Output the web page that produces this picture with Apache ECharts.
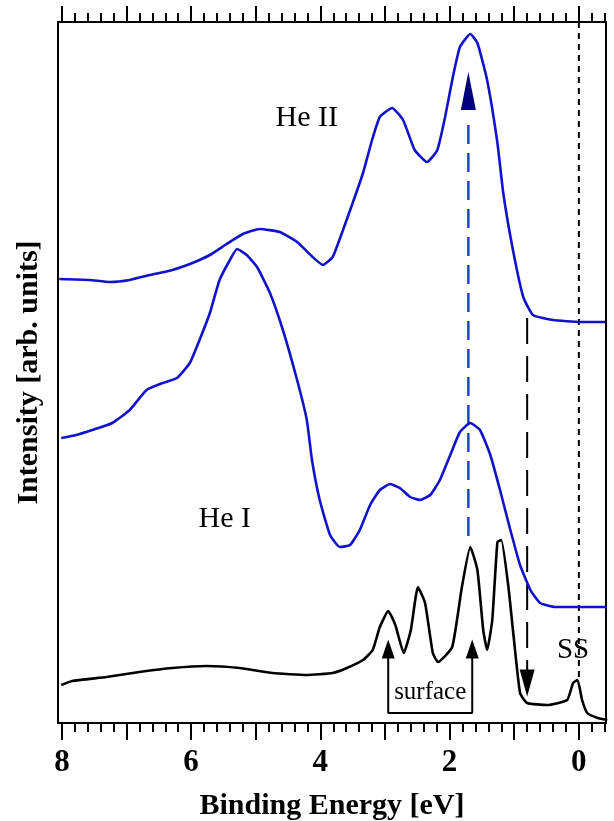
<!DOCTYPE html>
<html>
<head>
<meta charset="utf-8">
<script src="https://cdn.jsdelivr.net/npm/echarts@6/dist/echarts.min.js"></script>
<style>
  html, body { margin: 0; padding: 0; background: #fff; }
  #chart { width: 614px; height: 821px; }
</style>
</head>
<body>
<div id="chart"></div>
<script>
// binding energy (eV) / intensity (arb. units)
const heIIEnergy = [8.04, 7.57, 7.26, 6.95, 6.64, 6.29, 5.98, 5.71, 5.45, 5.20, 4.94, 4.63, 4.36, 4.12, 3.96, 3.81, 3.65, 3.50, 3.34, 3.20, 3.08, 2.89, 2.72, 2.54, 2.35, 2.19, 2.07, 1.95, 1.84, 1.68, 1.57, 1.42, 1.26, 1.17, 1.02, 0.86, 0.71, 0.40, -0.02, -0.41];
const heIIIntensity = [444, 443, 441, 443, 448, 453, 460, 468, 479, 489, 494, 491, 481, 466, 458, 466, 493, 520, 550, 583, 606, 615, 603, 573, 561, 573, 606, 646, 676, 689, 680, 643, 580, 530, 473, 426, 408, 403, 401, 401];

const heIEnergy = [8.01, 7.78, 7.53, 7.22, 6.95, 6.69, 6.44, 6.22, 6.02, 5.87, 5.71, 5.56, 5.40, 5.29, 5.14, 4.98, 4.78, 4.58, 4.36, 4.21, 4.13, 4.01, 3.85, 3.70, 3.54, 3.39, 3.23, 3.08, 2.92, 2.77, 2.61, 2.46, 2.30, 2.15, 1.99, 1.84, 1.68, 1.53, 1.37, 1.22, 1.06, 0.91, 0.75, 0.60, 0.36, -0.43];
const heIIntensity = [285, 288, 293, 300, 313, 333, 340, 345, 360, 383, 410, 443, 463, 474, 468, 456, 430, 393, 343, 303, 263, 223, 188, 176, 178, 193, 218, 233, 239, 235, 226, 223, 228, 243, 268, 291, 300, 293, 268, 233, 193, 158, 133, 120, 116, 116];

const surfEnergy = [8.01, 7.84, 7.31, 6.80, 6.29, 5.76, 5.25, 4.74, 4.21, 3.81, 3.59, 3.34, 3.19, 3.08, 2.95, 2.84, 2.71, 2.60, 2.49, 2.38, 2.26, 2.18, 1.96, 1.81, 1.68, 1.57, 1.48, 1.42, 1.34, 1.26, 1.20, 1.09, 1.02, 0.91, 0.80, 0.49, 0.18, 0.09, 0.02, -0.05, -0.13, -0.29, -0.44];
const surfIntensity = [38, 42, 46, 51, 55, 57, 55, 50, 48, 50, 55, 63, 73, 96, 112, 98, 70, 93, 136, 120, 70, 61, 76, 136, 176, 153, 93, 73, 103, 181, 183, 136, 93, 30, 20, 18, 23, 40, 43, 23, 10, 5, 3];

const majorTicks = [0, 1, 2, 3, 4, 5, 6, 7, 8];
const tickLabels = [0, 2, 4, 6, 8];

// annotation positions
const surfaceArrows = [2.95, 1.65];
const shiftLine = 1.71;   // blue dashed
const dropLine = 0.80;    // black long dash
const fermiLine = 0;      // black short dash

const zip = (xs, ys) => xs.map((x, i) => [x, ys[i]]);
const minorTicks = [];
for (let i = -2; i <= 40; i++) minorTicks.push(i / 5);

const serif = "Liberation Serif";
const X_MIN = -0.42, X_MAX = 8.06;

const chart = echarts.init(document.getElementById("chart"));

const xBase = {
  type: "value", inverse: true, min: X_MIN, max: X_MAX,
  splitLine: { show: false }
};
const frame = { onZero: false, lineStyle: { color: "#000", width: 2 } };

chart.setOption({
  animation: false,
  grid: { left: 58, right: 8, top: 22, bottom: 98, outerBoundsMode: "none" },
  xAxis: [
    Object.assign({}, xBase, {
      position: "bottom",
      axisLine: frame,
      axisTick: { customValues: majorTicks, length: 17, lineStyle: { color: "#000", width: 2 } },
      axisLabel: {
        customValues: tickLabels, margin: 24,
        color: "#000", fontFamily: serif, fontWeight: "bold", fontSize: 31
      },
      name: "Binding Energy [eV]", nameLocation: "middle", nameGap: 68,
      nameTextStyle: { color: "#000", fontFamily: serif, fontWeight: "bold", fontSize: 30 }
    }),
    Object.assign({}, xBase, {
      position: "bottom",
      axisLine: { show: false, onZero: false },
      axisTick: { customValues: minorTicks, length: 9, lineStyle: { color: "#000", width: 2 } },
      axisLabel: { show: false }
    }),
    Object.assign({}, xBase, {
      position: "top",
      axisLine: frame,
      axisTick: { customValues: majorTicks, length: 16, lineStyle: { color: "#000", width: 2 } },
      axisLabel: { show: false }
    }),
    Object.assign({}, xBase, {
      position: "top",
      axisLine: { show: false, onZero: false },
      axisTick: { customValues: minorTicks, length: 9, lineStyle: { color: "#000", width: 2 } },
      axisLabel: { show: false }
    })
  ],
  yAxis: [
    {
      type: "value", min: 0, max: 701, position: "left",
      axisLine: frame,
      axisTick: { show: false }, axisLabel: { show: false }, splitLine: { show: false },
      name: "Intensity [arb. units]", nameLocation: "middle", nameGap: 14,
      nameTextStyle: { color: "#000", fontFamily: serif, fontWeight: "bold", fontSize: 30 }
    },
    {
      type: "value", min: 0, max: 701, position: "right",
      axisLine: frame,
      axisTick: { show: false }, axisLabel: { show: false }, splitLine: { show: false }
    }
  ],
  series: [
    {
      name: "Fermi", type: "line", symbol: "none", silent: true,
      data: [[fermiLine, 701], [fermiLine, 46]],
      lineStyle: { color: "#000", width: 2, type: [6, 5] }
    },
    {
      name: "shift", type: "line", symbol: "none", silent: true,
      data: [[shiftLine, 598], [shiftLine, 185]],
      lineStyle: { color: "#1f3fd8", width: 2.5, type: [19, 9] }
    },
    {
      name: "drop", type: "line", symbol: "none", silent: true,
      data: [[dropLine, 405], [dropLine, 53]],
      lineStyle: { color: "#000", width: 2, type: [26, 12] }
    },
    {
      name: "He II", type: "line", symbol: "none", smooth: 0.15,
      data: zip(heIIEnergy, heIIIntensity),
      lineStyle: { color: "#1212c8", width: 2.6 }
    },
    {
      name: "He I", type: "line", symbol: "none", smooth: 0.15,
      data: zip(heIEnergy, heIIntensity),
      lineStyle: { color: "#1212c8", width: 2.6 }
    },
    {
      name: "surface spectrum", type: "line", symbol: "none", smooth: 0.15,
      data: zip(surfEnergy, surfIntensity),
      lineStyle: { color: "#000", width: 2.6 }
    },
    {
      name: "surface bracket", type: "line", symbol: "none", silent: true,
      data: [[surfaceArrows[0], 66], [surfaceArrows[0], 10], [surfaceArrows[1], 10], [surfaceArrows[1], 66]],
      lineStyle: { color: "#000", width: 2 }
    },
    {
      name: "heads", type: "scatter", silent: true, symbol: "triangle",
      itemStyle: { opacity: 1 },
      data: [
        { value: [shiftLine, 632], symbolSize: [15, 38], itemStyle: { color: "#00007a" } },
        { value: [dropLine, 40], symbolSize: [15, 27], symbolRotate: 180, itemStyle: { color: "#000" } },
        { value: [surfaceArrows[0], 74], symbolSize: [13, 19], itemStyle: { color: "#000" } },
        { value: [surfaceArrows[1], 74], symbolSize: [13, 19], itemStyle: { color: "#000" } }
      ]
    },
    {
      name: "labels", type: "scatter", silent: true, symbolSize: 0,
      itemStyle: { opacity: 1 },
      label: {
        show: true, position: "inside", formatter: "{b}",
        color: "#000", fontFamily: serif
      },
      data: [
        { name: "He II", value: [4.21, 605], label: { fontSize: 30 } },
        { name: "He I", value: [5.48, 204], label: { fontSize: 30 } },
        { name: "surface", value: [2.30, 31], label: { fontSize: 25 } },
        { name: "SS", value: [0.09, 73], label: { fontSize: 29 } }
      ]
    }
  ]
});
</script>
</body>
</html>
